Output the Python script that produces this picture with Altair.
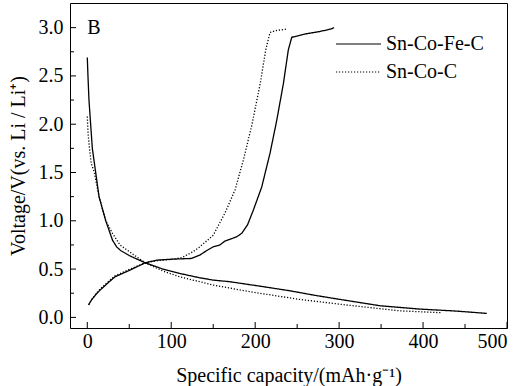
import altair as alt
import pandas as pd

# Sn-Co-Fe-C discharge (solid)
fe_dis_x = [0, 0.8, 2, 4, 6, 10, 14, 22, 30, 35, 40, 50, 69, 90, 110, 134, 150, 170, 205, 241, 270, 301, 349, 396, 440, 476]
fe_dis_y = [2.69, 2.5, 2.25, 2.0, 1.75, 1.5, 1.25, 1.0, 0.8, 0.73, 0.69, 0.64, 0.565, 0.5, 0.455, 0.41, 0.386, 0.369, 0.324, 0.276, 0.23, 0.186, 0.12, 0.086, 0.065, 0.041]
# Sn-Co-Fe-C charge (solid)
fe_chg_x = [1.5, 5, 10, 15, 25, 33, 51, 69, 83, 102, 124, 134, 142, 150, 158, 164, 172, 178, 184, 191, 197.8, 207.8, 217.7, 225.7, 233.6, 239.5, 243.6, 260, 277, 290, 294]
fe_chg_y = [0.13, 0.18, 0.235, 0.28, 0.36, 0.42, 0.49, 0.565, 0.593, 0.603, 0.61, 0.645, 0.69, 0.73, 0.75, 0.79, 0.815, 0.835, 0.87, 0.96, 1.11, 1.35, 1.70, 2.04, 2.42, 2.77, 2.90, 2.935, 2.96, 2.985, 3.0]
# Sn-Co-C discharge (dotted)
co_dis_x = [0, 0.4, 1, 2.4, 4.5, 8.4, 14, 22, 30, 39, 47, 60, 69, 90, 110, 134, 150, 194, 253, 313, 372, 422]
co_dis_y = [2.08, 2.0, 1.9, 1.77, 1.6, 1.5, 1.25, 1.0, 0.87, 0.75, 0.70, 0.62, 0.565, 0.48, 0.42, 0.369, 0.335, 0.265, 0.186, 0.124, 0.068, 0.048]
# Sn-Co-C charge (dotted)
co_chg_x = [1.5, 5, 10, 15, 25, 33, 51, 69, 85, 100, 113, 126, 134, 150, 164, 176, 186, 196, 206, 212.6, 217.7, 225, 238]
co_chg_y = [0.13, 0.18, 0.24, 0.29, 0.37, 0.43, 0.50, 0.565, 0.59, 0.60, 0.62, 0.68, 0.73, 0.85, 1.08, 1.32, 1.63, 1.99, 2.42, 2.77, 2.95, 2.97, 2.985]

series_names = ["Sn-Co-Fe-C", "Sn-Co-C"]

x_major = [0, 100, 200, 300, 400, 500]
x_minor = [50, 150, 250, 350, 450]
y_major = [0.0, 0.5, 1.0, 1.5, 2.0, 2.5, 3.0]
y_minor = [0.25, 0.75, 1.25, 1.75, 2.25, 2.75]

rows = []
for name, branch, xs, ys in [
    (series_names[0], "dis", fe_dis_x, fe_dis_y),
    (series_names[0], "chg", fe_chg_x, fe_chg_y),
    (series_names[1], "dis", co_dis_x, co_dis_y),
    (series_names[1], "chg", co_chg_x, co_chg_y),
]:
    for i, (xv, yv) in enumerate(zip(xs, ys)):
        rows.append({"series": name, "branch": name + "_" + branch, "x": xv, "y": yv, "i": i})
df = pd.DataFrame(rows)

FONT = "Liberation Serif"
xscale = alt.Scale(domain=[-20.6, 500], nice=False, zero=False)
yscale = alt.Scale(domain=[-0.11, 3.255], nice=False, zero=False)

xaxis = alt.Axis(
    values=x_major, format="d", ticks=False, domain=False, grid=False,
    labelFont=FONT, labelFontSize=20, labelColor="black", labelPadding=3,
    title="Specific capacity/(mAh·g⁻¹)", titleFont=FONT, titleFontSize=20,
    titleFontWeight="normal", titleColor="black", titlePadding=14)
yaxis = alt.Axis(
    values=y_major, format=".1f", ticks=False, domain=False, grid=False,
    labelFont=FONT, labelFontSize=20, labelColor="black", labelPadding=7,
    title="Voltage/V(vs. Li / Li⁺)", titleFont=FONT, titleFontSize=20,
    titleFontWeight="normal", titleColor="black", titlePadding=10)

lines = alt.Chart(df).mark_line(strokeWidth=1.3, color="black").encode(
    x=alt.X("x:Q", scale=xscale, axis=xaxis),
    y=alt.Y("y:Q", scale=yscale, axis=yaxis),
    strokeDash=alt.StrokeDash("series:N", scale=alt.Scale(domain=series_names, range=[[1, 0], [1.2, 1.8]]),
        legend=alt.Legend(title=None, orient="none", legendX=265, legendY=31,
                          symbolType="stroke", symbolSize=2025, symbolStrokeWidth=1.2,
                          symbolStrokeColor="black", labelFont=FONT, labelFontSize=20,
                          labelColor="black", clipHeight=20, rowPadding=8, labelOffset=4)),
    detail="branch:N",
    order="i:Q",
)

def yticks(vals, length):
    return alt.Chart(pd.DataFrame({"x": [0.0] * len(vals), "y": vals})).mark_rule(color="black", strokeWidth=1).encode(
        y=alt.Y("y:Q", scale=yscale, axis=yaxis), x=alt.value(0), x2=alt.value(length))

def xticks(vals, length):
    return alt.Chart(pd.DataFrame({"x": vals, "y": [0.0] * len(vals)})).mark_rule(color="black", strokeWidth=1).encode(
        x=alt.X("x:Q", scale=xscale, axis=xaxis), y=alt.value(325), y2=alt.value(325 - length))

label = alt.Chart(pd.DataFrame({"x": [0], "y": [3.0], "t": ["B"]})).mark_text(
    align="left", baseline="middle", font=FONT, fontSize=20, color="black").encode(
    x=alt.X("x:Q", scale=xscale, axis=xaxis), y=alt.Y("y:Q", scale=yscale, axis=yaxis), text="t:N")

chart = alt.layer(
    lines, yticks(y_major, 6), yticks(y_minor, 4), xticks(x_major, 6), xticks(x_minor, 4), label
).properties(
    width=437, height=325,
    padding={"left": 70, "top": 3, "right": 15, "bottom": 58},
    autosize=alt.AutoSizeParams(type="none"),
    background="white",
).configure_view(stroke="black", strokeWidth=1)

chart.save("out.html", embed_options={"renderer": "svg", "actions": False})
